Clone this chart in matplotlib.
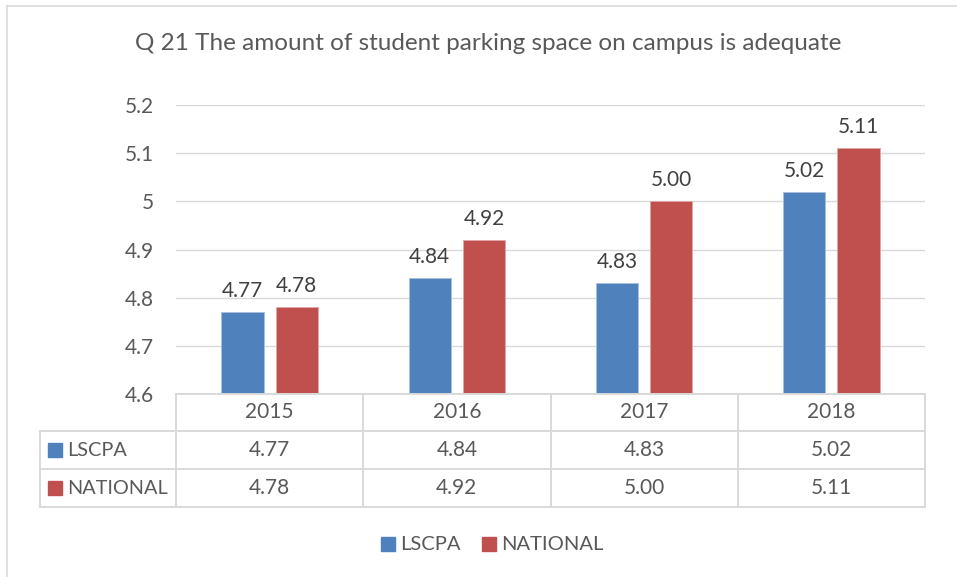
import matplotlib
matplotlib.use('Agg')
import matplotlib.pyplot as plt
from matplotlib.lines import Line2D
from matplotlib.patches import Rectangle
import numpy as np

years = ['2015', '2016', '2017', '2018']
lscpa = [4.77, 4.84, 4.83, 5.02]
national = [4.78, 4.92, 5.00, 5.11]
series_names = ['LSCPA', 'NATIONAL']
title = 'Q 21 The amount of student parking space on campus is adequate'

blue = '#4F81BD'
red = '#C0504D'
grid = '#D9D9D9'
txt = '#595959'

plt.rcParams['font.family'] = ['Lato', 'DejaVu Sans']

W, H = 957, 577
fig = plt.figure(figsize=(W / 100, H / 100), dpi=100)

def fx(px):
    return px / W

def fy(py):
    return 1 - py / H

# plot area in pixels
x0, x1 = 176, 925
ytop, ybot = 105, 394
ax = fig.add_axes([fx(x0), fy(ybot), fx(x1) - fx(x0), fy(ytop) - fy(ybot)])

x = np.arange(len(years))
bw = 0.225
off = 0.145
ax.bar(x - off, lscpa, bw, color=blue, edgecolor='#A7BFDE', linewidth=0.6, zorder=3)
ax.bar(x + off, national, bw, color=red, edgecolor='#DFA7A6', linewidth=0.6, zorder=3)

fs = 15
for xi, v in zip(x, lscpa):
    ax.annotate(f'{v:.2f}', (xi - off, v), xytext=(0, 11), textcoords='offset pixels',
                ha='center', va='bottom', fontsize=fs, color='#404040')
for xi, v in zip(x, national):
    ax.annotate(f'{v:.2f}', (xi + off, v), xytext=(0, 11), textcoords='offset pixels',
                ha='center', va='bottom', fontsize=fs, color='#404040')

ax.set_xlim(-0.5, 3.5)
ax.set_ylim(4.6, 5.2)
ax.set_yticks(np.arange(4.6, 5.21, 0.1))
ax.set_yticklabels(['4.6', '4.7', '4.8', '4.9', '5', '5.1', '5.2'])
ax.yaxis.grid(True, color=grid, linewidth=1.0, zorder=0)
ax.set_xticks([])
ax.tick_params(axis='y', length=0, pad=16, labelsize=fs, labelcolor=txt)
for s in ax.spines.values():
    s.set_visible(False)

# title
fig.text(fx(488), fy(44), title, ha='center', va='center', fontsize=17.5, color=txt)

# chart border (left & top)
fig.add_artist(Line2D([fx(7), fx(7)], [fy(6), fy(577)], color=grid, lw=1.2))
fig.add_artist(Line2D([fx(7), fx(957)], [fy(6), fy(6)], color=grid, lw=1.2))

# data table
rows_y = [394, 431, 469, 507]
cols_x = [x0 + i * (x1 - x0) / 4 for i in range(5)]
lab_x = 40
tl = dict(color=grid, lw=1.4)
fig.add_artist(Line2D([fx(x0), fx(x1)], [fy(394), fy(394)], **tl))
for ry in rows_y[1:]:
    fig.add_artist(Line2D([fx(lab_x), fx(x1)], [fy(ry), fy(ry)], **tl))
for cx in cols_x:
    fig.add_artist(Line2D([fx(cx), fx(cx)], [fy(394), fy(507)], **tl))
fig.add_artist(Line2D([fx(lab_x), fx(lab_x)], [fy(431), fy(507)], **tl))

for i, yr in enumerate(years):
    cx = (cols_x[i] + cols_x[i + 1]) / 2
    fig.text(fx(cx), fy(412.5), yr, ha='center', va='center', fontsize=fs, color=txt)
    fig.text(fx(cx), fy(450), f'{lscpa[i]:.2f}', ha='center', va='center', fontsize=fs, color=txt)
    fig.text(fx(cx), fy(488), f'{national[i]:.2f}', ha='center', va='center', fontsize=fs, color=txt)

for ry, name, col in zip([450, 488], series_names, [blue, red]):
    fig.add_artist(Rectangle((fx(48), fy(ry + 7)), fx(14), 14 / H, color=col,
                             transform=fig.transFigure))
    fig.text(fx(67), fy(ry), name, ha='left', va='center', fontsize=14.3, color=txt)

# bottom legend
for lx, name, col in zip([381, 482], series_names, [blue, red]):
    fig.add_artist(Rectangle((fx(lx), fy(551)), fx(14), 14 / H, color=col,
                             transform=fig.transFigure))
    fig.text(fx(lx + 19), fy(544), name, ha='left', va='center', fontsize=14.5, color=txt)

fig.savefig('out.png', dpi=100, facecolor='white')
